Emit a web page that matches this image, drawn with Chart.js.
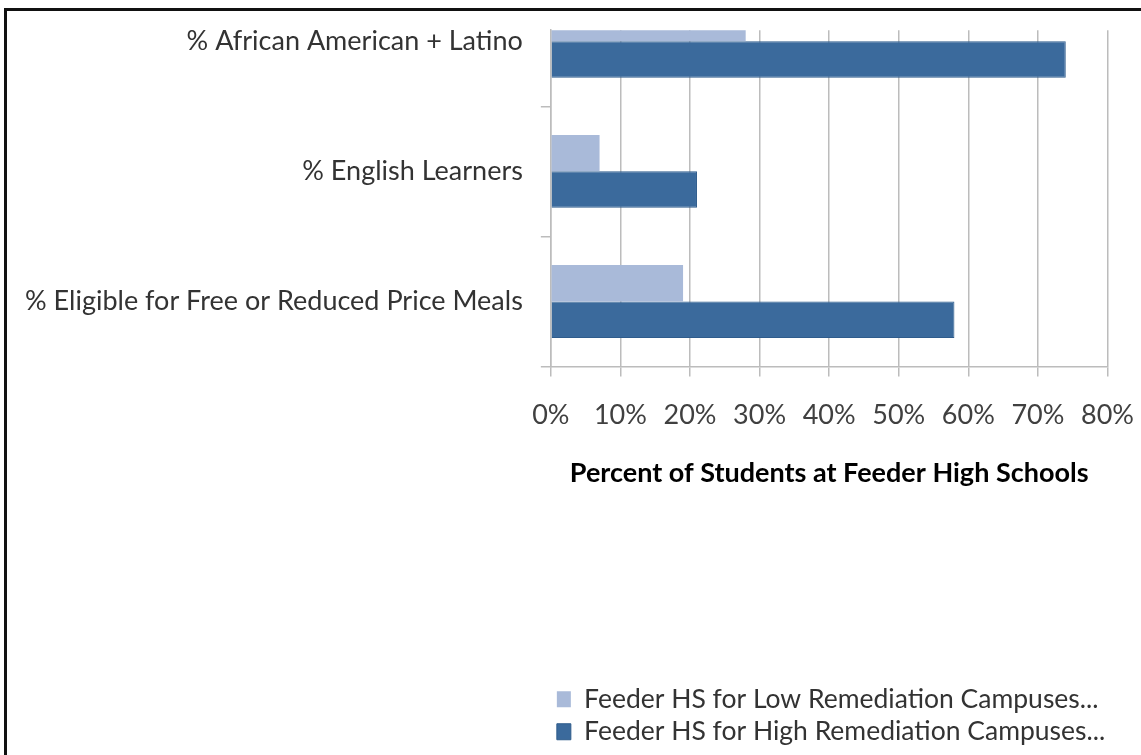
<!DOCTYPE html>
<html>
<head>
<meta charset="utf-8">
<title>Feeder High Schools</title>
<script src="https://cdn.jsdelivr.net/npm/chart.js@4/dist/chart.umd.min.js"></script>
<style>
    html, body {
        margin: 0;
        padding: 0;
        background: #ffffff;
        overflow: hidden;
    }
    #chartBox {
        position: absolute;
        left: 0;
        top: 0;
        width: 1141px;
        height: 755px;
    }
    /* frame of the original figure, only top and left edges are in view */
    #frame {
        position: absolute;
        left: 4px;
        top: 8px;
        width: 2000px;
        height: 2000px;
        border-left: 3px solid #111;
        border-top: 3px solid #111;
        pointer-events: none;
    }
</style>
</head>
<body>
<div id="chartBox"><canvas id="feederChart"></canvas></div>
<div id="frame"></div>

<script>
// Chart data
const categories = [
    '% African American + Latino',
    '% English Learners',
    '% Eligible for Free or Reduced Price Meals'
];
const seriesNames = [
    'Feeder HS for Low Remediation Campuses...',
    'Feeder HS for High Remediation Campuses...'
];
const lowRemediation = [28, 7, 19];
const highRemediation = [74, 21, 58];
const percentTicks = [0, 10, 20, 30, 40, 50, 60, 70, 80];

const FONT = 'Lato, "Liberation Sans", sans-serif';

document.addEventListener('DOMContentLoaded', function() {
    createFeederChart(document.getElementById('feederChart'));
});

function toPoints(values) {
    // y is the category position, x the percentage
    return values.map((value, i) => ({ x: value, y: i }));
}

function createFeederChart(ctx) {
    const chartData = {
        datasets: [
            {
                label: seriesNames[0],
                data: toPoints(lowRemediation),
                backgroundColor: '#a9bad9',
                borderColor: '#a9bad9',
                borderWidth: 0
            },
            {
                label: seriesNames[1],
                data: toPoints(highRemediation),
                backgroundColor: '#3b6a9c',
                borderColor: '#2f5c8c',
                borderWidth: 1
            }
        ]
    };

    const options = {
        indexAxis: 'y',
        responsive: true,
        maintainAspectRatio: false,
        animation: false,
        categoryPercentage: 0.56,
        barPercentage: 1.0,
        layout: {
            padding: { top: 30, left: 7, right: 8, bottom: 0 }
        },
        plugins: {
            tooltip: { enabled: false },
            legend: {
                position: 'bottom',
                align: 'start',
                fullSize: false,
                labels: {
                    boxWidth: 14,
                    boxHeight: 16,
                    padding: 6,
                    color: '#333333',
                    font: { family: FONT, size: 26.5 }
                }
            }
        },
        scales: {
            x: {
                type: 'linear',
                min: percentTicks[0],
                max: percentTicks[percentTicks.length - 1],
                afterBuildTicks: function(scale) {
                    scale.ticks = percentTicks.map(v => ({ value: v }));
                },
                grid: {
                    color: '#bcbcbc',
                    lineWidth: 1.5,
                    tickLength: 10
                },
                border: { color: '#bcbcbc', width: 1.5 },
                ticks: {
                    padding: 7,
                    color: '#404040',
                    font: { family: FONT, size: 27, lineHeight: 2.37 },
                    callback: function(value) {
                        return value + '%';
                    }
                },
                title: {
                    display: true,
                    text: 'Percent of Students at Feeder High Schools',
                    color: '#000000',
                    font: { family: FONT, size: 27, weight: 'bold' },
                    padding: { top: 2, bottom: 191 }
                }
            },
            y: {
                type: 'linear',
                reverse: true,
                offset: false,
                // the top category is cut off in the original figure
                min: -0.085,
                max: categories.length - 0.5,
                afterBuildTicks: function(scale) {
                    scale.ticks = categories.map((_, i) => ({ value: i }));
                },
                grid: {
                    offset: true,
                    drawOnChartArea: false,
                    color: '#bcbcbc',
                    lineWidth: 1.5,
                    tickLength: 10
                },
                border: { color: '#bcbcbc', width: 1.5 },
                ticks: {
                    autoSkip: false,
                    padding: 18,
                    color: '#333333',
                    font: { family: FONT, size: 27, lineHeight: 0.9 },
                    callback: function(value) {
                        return categories[value];
                    }
                }
            }
        }
    };

    return new Chart(ctx, {
        type: 'bar',
        data: chartData,
        options: options
    });
}
</script>
</body>
</html>
